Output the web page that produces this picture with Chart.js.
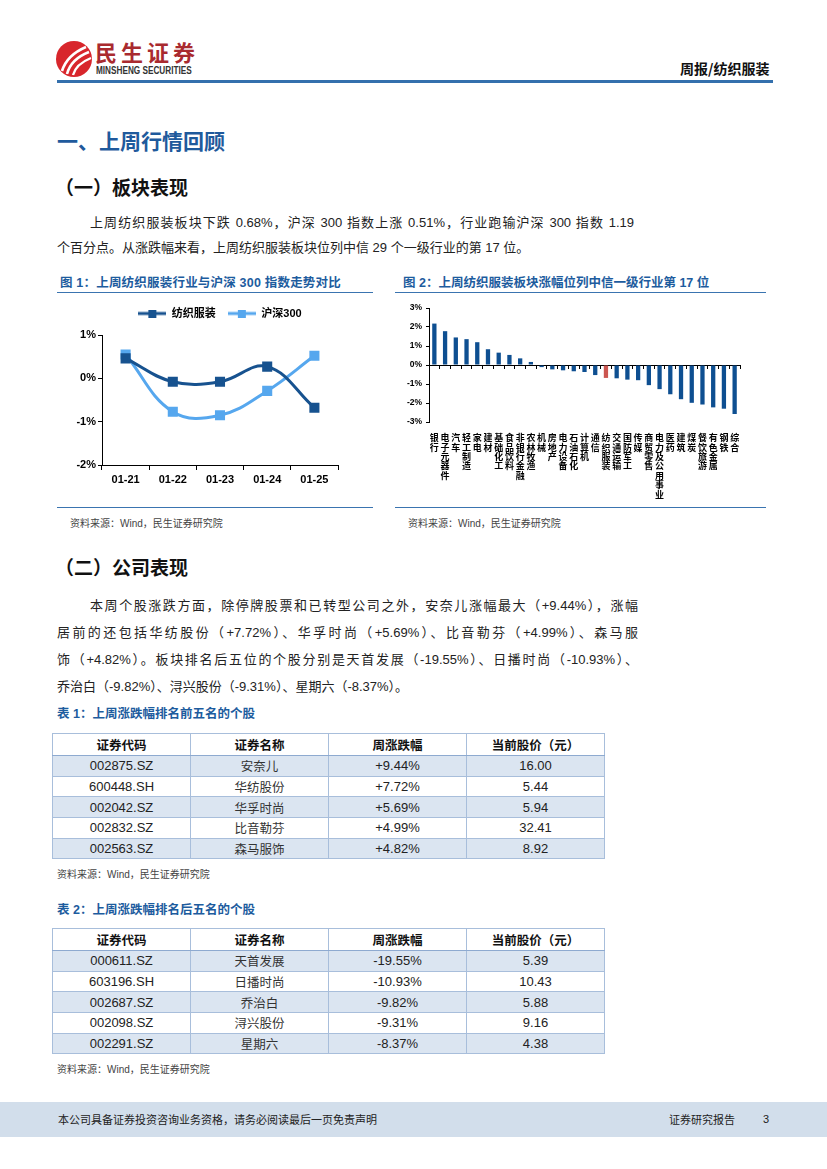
<!DOCTYPE html>
<html lang="zh-CN">
<head>
<meta charset="UTF-8">
<title>周报/纺织服装</title>
<script src="https://cdn.jsdelivr.net/npm/chart.js"></script>
<style>
  body { margin: 0; background: #fff; font-family: "Liberation Sans", Arial, "Noto Sans CJK SC", sans-serif; color: #222; }
  .page { position: relative; width: 827px; height: 1169px; overflow: hidden; background: #fff; }
  .abs { position: absolute; white-space: nowrap; }
  .h1 { font-family: "Noto Sans CJK SC", sans-serif; font-weight: bold; font-size: 21px; line-height: 26px; color: #1f5a9c; }
  .h2 { font-family: "Noto Sans CJK SC", sans-serif; font-weight: bold; font-size: 19px; line-height: 24px; color: #111; }
  .para { font-size: 13px; color: #222; }
  .para div { position: absolute; white-space: nowrap; }
  .just { text-align: justify; text-align-last: justify; }
  .cap { font-family: "Liberation Sans", Arial, "Noto Sans CJK SC", sans-serif; font-weight: bold; font-size: 12.5px; line-height: 16px; color: #1d5c9e; }
  .rule { position: absolute; height: 0; border-top: 1.5px solid #3a74b0; }
  .src { font-size: 10px; line-height: 14px; color: #444; }
  canvas { position: absolute; }
  table { position: absolute; border-collapse: collapse; table-layout: fixed; }
  td, th { border: 1px solid #a8bedb; text-align: center; padding: 0; overflow: hidden; }
  th { height: 21px; font-family: "Noto Sans CJK SC", sans-serif; font-size: 12.5px; font-weight: bold; color: #111; background: #fff; border-bottom: 1.5px solid #8eaad0; }
  td { height: 19.7px; font-size: 13px; color: #222; }
  td.cn { font-family: "Noto Sans CJK SC", sans-serif; font-size: 12.5px; color: #333; }
  tbody tr:nth-child(odd) td { background: #dbe5f1; }
  .footer { position: absolute; left: 0; top: 1102px; width: 827px; height: 35px; background: #d2deeb; }
  .footer span { position: absolute; top: 10px; font-family: "Noto Sans CJK SC", sans-serif; font-size: 11px; line-height: 15px; color: #222; }
</style>
</head>
<body>
<div class="page">

  <!-- header -->
  <svg class="abs" style="left:55px;top:38px" width="40" height="42" viewBox="0 0 40 42">
    <circle cx="19" cy="21" r="18" fill="#d8262c"/>
    <path d="M7 33 Q12 17 31 9" stroke="#fff" stroke-width="2.6" fill="none"/>
    <path d="M12 36 Q16 21 34 14" stroke="#fff" stroke-width="2.6" fill="none"/>
    <path d="M18 37 Q21 26 36 20" stroke="#fff" stroke-width="2.4" fill="none"/>
  </svg>
  <div class="abs" style="left:95px;top:39px;font-family:'Noto Sans CJK SC';font-weight:bold;font-size:22px;line-height:24px;letter-spacing:4px;color:#a92a2f;">民生证券</div>
  <div class="abs" style="left:96px;top:65px;font-weight:bold;font-size:10px;line-height:12px;color:#333;transform:scaleX(0.82);transform-origin:left top;">MINSHENG SECURITIES</div>
  <div class="abs" style="left:680px;top:59px;font-family:'Noto Sans CJK SC';font-weight:bold;font-size:14px;line-height:18px;color:#111;">周报/纺织服装</div>
  <div class="abs" style="left:57px;top:80px;width:716px;height:3px;background:#3470ad;"></div>

  <!-- section 1 -->
  <div class="abs h1" style="left:57px;top:127px;">一、上周行情回顾</div>
  <div class="abs h2" style="left:55px;top:175px;">（一）板块表现</div>
  <div class="para">
    <div class="just" style="left:90px;top:210px;width:544px;line-height:25px;">上周纺织服装板块下跌 0.68%，沪深 300 指数上涨 0.51%，行业跑输沪深 300 指数 1.19</div>
    <div style="left:57px;top:235px;line-height:25px;">个百分点。从涨跌幅来看，上周纺织服装板块位列中信 29 个一级行业的第 17 位。</div>
  </div>

  <!-- figure 1 -->
  <div class="abs cap" style="left:60px;top:275px;letter-spacing:0.2px;">图 1：上周纺织服装行业与沪深 300 指数走势对比</div>
  <div class="rule" style="left:57px;top:292px;width:316px;"></div>
  <canvas id="trendChart" width="318" height="210" style="left:57px;top:296px;"></canvas>
  <div class="rule" style="left:57px;top:507px;width:316px;"></div>
  <div class="abs src" style="left:70px;top:517px;">资料来源：Wind，民生证券研究院</div>

  <!-- figure 2 -->
  <div class="abs cap" style="left:403px;top:275px;">图 2：上周纺织服装板块涨幅位列中信一级行业第 17 位</div>
  <div class="rule" style="left:395px;top:292px;width:371px;"></div>
  <canvas id="industryChart" width="373" height="210" style="left:395px;top:296px;"></canvas>
  <div class="rule" style="left:395px;top:507px;width:371px;"></div>
  <div class="abs src" style="left:408px;top:517px;">资料来源：Wind，民生证券研究院</div>

  <!-- section 2 -->
  <div class="abs h2" style="left:55px;top:555px;">（二）公司表现</div>
  <div class="para">
    <div class="just" style="left:90px;top:592px;width:548px;line-height:27px;">本周个股涨跌方面，除停牌股票和已转型公司之外，安奈儿涨幅最大（+9.44%），涨幅</div>
    <div class="just" style="left:57px;top:619px;width:581px;line-height:27px;">居前的还包括华纺股份（+7.72%）、华孚时尚（+5.69%）、比音勒芬（+4.99%）、森马服</div>
    <div class="just" style="left:57px;top:646px;width:581px;line-height:27px;">饰（+4.82%）。板块排名后五位的个股分别是天首发展（-19.55%）、日播时尚（-10.93%）、</div>
    <div style="left:57px;top:673px;line-height:27px;">乔治白（-9.82%）、浔兴股份（-9.31%）、星期六（-8.37%）。</div>
  </div>

  <div class="abs cap" style="left:57px;top:706px;">表 1：上周涨跌幅排名前五名的个股</div>
  <table id="topTable" style="left:52px;top:733px;width:552px;">
    <colgroup><col style="width:138px"><col style="width:138px"><col style="width:138px"><col style="width:138px"></colgroup>
    <thead><tr><th>证券代码</th><th>证券名称</th><th>周涨跌幅</th><th>当前股价（元）</th></tr></thead>
    <tbody></tbody>
  </table>
  <div class="abs src" style="left:57px;top:868px;">资料来源：Wind，民生证券研究院</div>

  <div class="abs cap" style="left:57px;top:902px;">表 2：上周涨跌幅排名后五名的个股</div>
  <table id="bottomTable" style="left:52px;top:928px;width:552px;">
    <colgroup><col style="width:138px"><col style="width:138px"><col style="width:138px"><col style="width:138px"></colgroup>
    <thead><tr><th>证券代码</th><th>证券名称</th><th>周涨跌幅</th><th>当前股价（元）</th></tr></thead>
    <tbody></tbody>
  </table>
  <div class="abs src" style="left:57px;top:1063px;">资料来源：Wind，民生证券研究院</div>

  <div class="footer">
    <span style="left:58px;">本公司具备证券投资咨询业务资格，请务必阅读最后一页免责声明</span>
    <span style="left:669px;">证券研究报告</span>
    <span style="left:763px;font-family:'Liberation Sans',Arial;">3</span>
  </div>
</div>

<script>
    // 图1：日涨跌幅（%）
    const tradeDays = ['01-21', '01-22', '01-23', '01-24', '01-25'];
    const textileDaily = [0.46, -0.08, -0.08, 0.27, -0.68];
    const csi300Daily = [0.55, -0.77, -0.85, -0.29, 0.52];

    // 图2：中信一级行业周涨跌幅（%）
    const industryNames = ['银行', '电子元器件', '汽车', '轻工制造', '家电', '建材', '基础化工', '食品饮料',
        '非银行金融', '农林牧渔', '机械', '房地产', '电力设备', '石油石化', '计算机', '通信', '纺织服装',
        '交通运输', '国防军工', '传媒', '商贸零售', '电力及公用事业', '医药', '建筑', '煤炭', '餐饮旅游',
        '有色金属', '钢铁', '综合'];
    const industryChange = [2.18, 1.78, 1.45, 1.36, 1.20, 0.83, 0.65, 0.53, 0.35, 0.16, -0.11, -0.23,
        -0.28, -0.33, -0.37, -0.53, -0.68, -0.70, -0.77, -0.80, -1.06, -1.27, -1.54, -1.80, -1.99,
        -2.08, -2.23, -2.30, -2.58];
    const highlightIndustry = '纺织服装';
    const industryTicks = [-3, -2, -1, 0, 1, 2, 3];

    // 表1 / 表2
    const topCodes = ['002875.SZ', '600448.SH', '002042.SZ', '002832.SZ', '002563.SZ'];
    const topNames = ['安奈儿', '华纺股份', '华孚时尚', '比音勒芬', '森马服饰'];
    const topChange = ['+9.44%', '+7.72%', '+5.69%', '+4.99%', '+4.82%'];
    const topPrice = ['16.00', '5.44', '5.94', '32.41', '8.92'];

    const bottomCodes = ['000611.SZ', '603196.SH', '002687.SZ', '002098.SZ', '002291.SZ'];
    const bottomNames = ['天首发展', '日播时尚', '乔治白', '浔兴股份', '星期六'];
    const bottomChange = ['-19.55%', '-10.93%', '-9.82%', '-9.31%', '-8.37%'];
    const bottomPrice = ['5.39', '10.43', '5.88', '9.16', '4.38'];

    const DARK_BLUE = '#17528f';
    const LIGHT_BLUE = '#56a7ee';
    const BAR_BLUE = '#0e4f91';
    const BAR_RED = '#cc5650';

    Chart.defaults.font.family = '"Liberation Sans", Arial, "Noto Sans CJK SC", sans-serif';
    Chart.defaults.color = '#000';

    function fillTable(id, codes, names, changes, prices) {
        const tbody = document.querySelector('#' + id + ' tbody');
        codes.forEach((code, i) => {
            const tr = document.createElement('tr');
            [code, names[i], changes[i], prices[i]].forEach((v, j) => {
                const td = document.createElement('td');
                td.textContent = v;
                if (j === 1) td.className = 'cn';
                tr.appendChild(td);
            });
            tbody.appendChild(tr);
        });
    }

    // 图例图标：线段 + 方块
    function legendIcon(color) {
        const c = document.createElement('canvas');
        c.width = 28; c.height = 8;
        const g = c.getContext('2d');
        g.strokeStyle = color; g.lineWidth = 3;
        g.beginPath(); g.moveTo(0, 4); g.lineTo(28, 4); g.stroke();
        g.fillStyle = color; g.fillRect(10, 0, 8, 8);
        return c;
    }

    function drawTrendChart() {
        const icons = [legendIcon(DARK_BLUE), legendIcon(LIGHT_BLUE)];
        new Chart(document.getElementById('trendChart'), {
            type: 'line',
            data: {
                labels: tradeDays,
                datasets: [
                    { label: '纺织服装', data: textileDaily, borderColor: DARK_BLUE, backgroundColor: DARK_BLUE,
                      borderWidth: 3, tension: 0.4, pointStyle: 'rect', pointRadius: 5, fill: false },
                    { label: '沪深300', data: csi300Daily, borderColor: LIGHT_BLUE, backgroundColor: LIGHT_BLUE,
                      borderWidth: 3, tension: 0.4, pointStyle: 'rect', pointRadius: 5, fill: false }
                ]
            },
            options: {
                responsive: false,
                animation: false,
                layout: { padding: { top: 0, right: 37, bottom: 17, left: 0 } },
                plugins: {
                    legend: {
                        position: 'top', fullSize: false, weight: 3000,
                        labels: {
                            usePointStyle: true, pointStyleWidth: 28, padding: 12, color: '#000',
                            font: { size: 11, weight: 'bold' },
                            generateLabels: chart => chart.data.datasets.map((ds, i) => ({
                                text: ds.label, pointStyle: icons[i], fillStyle: ds.borderColor,
                                strokeStyle: ds.borderColor, lineWidth: 0, hidden: false, datasetIndex: i
                            }))
                        }
                    },
                    // 图例与绘图区之间的留白
                    title: { display: true, text: '', padding: 0, font: { size: 6, lineHeight: 1 } },
                    tooltip: { enabled: false }
                },
                scales: {
                    x: {
                        offset: true,
                        grid: { offset: true, drawOnChartArea: false, tickLength: 5, color: '#000' },
                        border: { color: '#000' },
                        ticks: { font: { size: 11, weight: 'bold' }, color: '#000', padding: 3 },
                        afterFit: s => { s.height = 24; }
                    },
                    y: {
                        min: -2, max: 1,
                        grid: { drawOnChartArea: false, tickLength: 4, color: '#000' },
                        border: { color: '#000' },
                        ticks: { stepSize: 1, callback: v => v + '%', font: { size: 11, weight: 'bold' }, color: '#000', padding: 2 },
                        afterFit: s => { s.width = 45; }
                    }
                }
            }
        });
    }

    function drawIndustryChart() {
        new Chart(document.getElementById('industryChart'), {
            type: 'bar',
            data: {
                labels: industryNames.map(n => n.split('')),
                datasets: [{
                    data: industryChange,
                    xAxisID: 'x', yAxisID: 'y',
                    backgroundColor: industryNames.map(n => n === highlightIndustry ? BAR_RED : BAR_BLUE),
                    barPercentage: 0.4, categoryPercentage: 1
                }]
            },
            options: {
                responsive: false,
                animation: false,
                layout: { padding: { top: 12, right: 28, bottom: 0, left: 0 } },
                plugins: { legend: { display: false }, tooltip: { enabled: false } },
                scales: {
                    x: {
                        type: 'category', position: 'bottom', offset: true,
                        grid: { display: false }, border: { display: false },
                        ticks: { autoSkip: false, maxRotation: 0, padding: 3, color: '#000',
                                 font: { family: '"Noto Sans CJK SC", sans-serif', size: 9, weight: 'bold', lineHeight: 1.05 } },
                        afterFit: s => { s.height = 84; }
                    },
                    // 0 值处的横轴
                    x0: {
                        type: 'category', axis: 'x', position: { y: 0 }, offset: true,
                        grid: { offset: true, drawOnChartArea: false, tickLength: 3, color: '#000' },
                        border: { color: '#000' },
                        ticks: { display: false }
                    },
                    y: {
                        min: industryTicks[0], max: industryTicks[industryTicks.length - 1],
                        afterBuildTicks: s => { s.ticks = industryTicks.map(v => ({ value: v })); },
                        grid: { drawOnChartArea: false, tickLength: 3, color: '#000' },
                        border: { color: '#000' },
                        ticks: { callback: v => v + '%', font: { size: 8.5, weight: 'bold' }, color: '#000', padding: 4 },
                        afterFit: s => { s.width = 34; }
                    }
                }
            }
        });
    }

    fillTable('topTable', topCodes, topNames, topChange, topPrice);
    fillTable('bottomTable', bottomCodes, bottomNames, bottomChange, bottomPrice);
    drawTrendChart();
    drawIndustryChart();
</script>
</body>
</html>
